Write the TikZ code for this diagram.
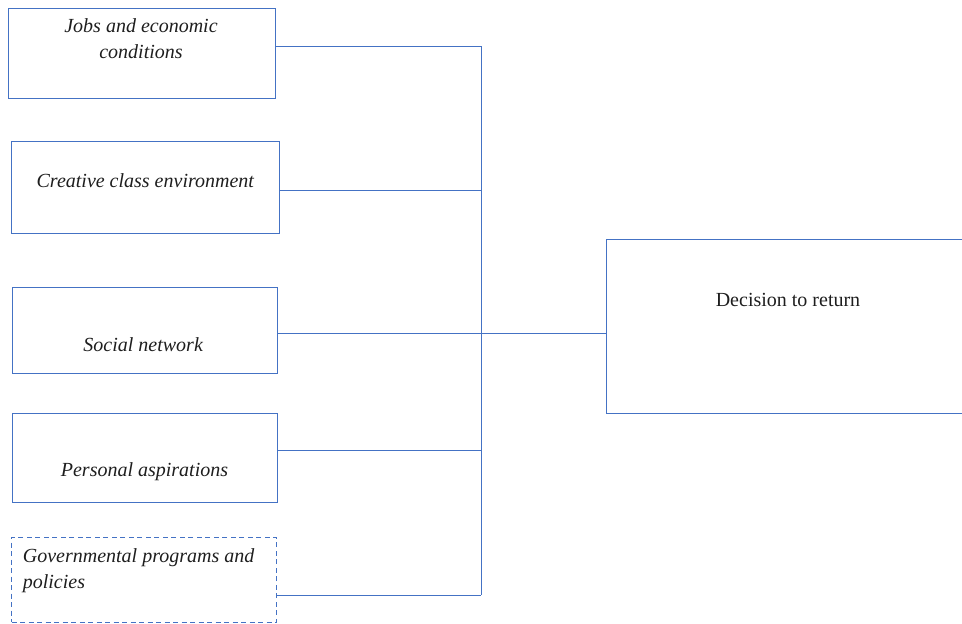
\documentclass[tikz,border=0pt]{standalone}
\usepackage{fontspec}
\setmainfont{Liberation Serif}
\definecolor{boxblue}{RGB}{68,114,196}
\definecolor{txtgray}{RGB}{30,30,30}

\tikzset{every picture/.style={line width=0.75pt}}
\tikzset{
  factor/.style={draw=boxblue, line width=1pt, inner sep=0pt, anchor=north west},
  link/.style={draw=boxblue, line width=1pt},
  label/.style={inner sep=0pt, text=txtgray, font=\fontsize{20}{26}\selectfont}
}

\begin{document}
\begin{tikzpicture}[x=1pt,y=1pt,yscale=-1,xscale=1]
\useasboundingbox (0,0) rectangle (962,624);

%Shape: Rectangle
\draw (8.3,8.3) node [factor, minimum width=266.7, minimum height=90] (jobs) {};
%Shape: Rectangle
\draw (11,141) node [factor, minimum width=268.3, minimum height=92.3] (creative) {};
%Shape: Rectangle
\draw (12.3,287.3) node [factor, minimum width=265, minimum height=85.4] (social) {};
%Shape: Rectangle
\draw (12.3,413.3) node [factor, minimum width=265, minimum height=88.4] (personal) {};
%Shape: Rectangle
\draw (11,536.7) node [factor, dash pattern={on 5pt off 3.5pt}, minimum width=265, minimum height=85] (policies) {};
%Shape: Rectangle
\draw (606,239) node [factor, minimum width=380, minimum height=173.7] (decision) {};

% bus points
\coordinate (bus-jobs) at (481,46);
\coordinate (bus-creative) at (481,190.7);
\coordinate (bus-social) at (481,333.3);
\coordinate (bus-personal) at (481,450.7);
\coordinate (bus-policies) at (481,595);

%Straight Lines
\draw [link] (bus-jobs) -- (bus-policies) ;
%Straight Lines
\draw [link] (jobs.east |- bus-jobs) -- (bus-jobs) ;
%Straight Lines
\draw [link] (creative.east |- bus-creative) -- (bus-creative) ;
%Straight Lines
\draw [link] (social.east |- bus-social) -- (decision.west |- bus-social) ;
%Straight Lines
\draw [link] (personal.east |- bus-personal) -- (bus-personal) ;
%Straight Lines
\draw [link] (policies.east |- bus-policies) -- (bus-policies) ;

% Text Node
\draw (141,58) node [label, anchor=base, align=center] (jobs-txt) {\textit{Jobs and economic}\\\textit{conditions}};
% Text Node
\draw (145.5,187) node [label, anchor=base] (creative-txt) {\textit{Creative class environment}};
% Text Node
\draw (143.3,351.7) node [label, anchor=base] (social-txt) {\textit{Social network}};
% Text Node
\draw (144.5,476) node [label, anchor=base] (personal-txt) {\textit{Personal aspirations}};
% Text Node
\draw (22.5,588.5) node [label, anchor=base west, align=left] (policies-txt) {\textit{Governmental programs and}\\\textit{policies}};
% Text Node
\draw (788,306) node [label, anchor=base] (decision-txt) {Decision to return};
\end{tikzpicture}
\end{document}
